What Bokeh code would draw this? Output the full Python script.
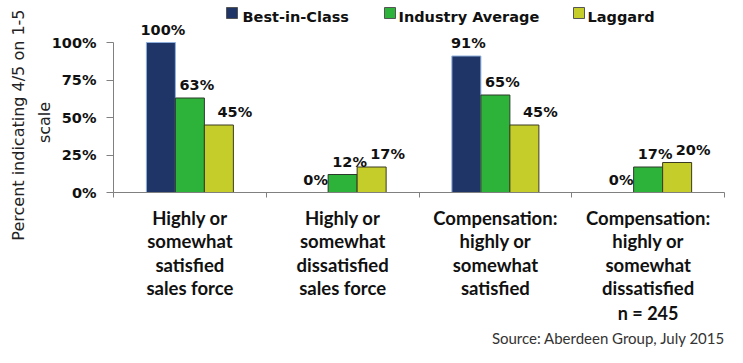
import math
from bokeh.plotting import figure
from bokeh.models import (Range1d, Label, LabelSet, ColumnDataSource, FixedTicker,
                          NumeralTickFormatter, BoxAnnotation, LinearAxis)
from bokeh.core.properties import value
from bokeh.embed import file_html
from bokeh.resources import INLINE

# ---- data ----
categories = [
    "Highly or\nsomewhat\nsatisfied\nsales force",
    "Highly or\nsomewhat\ndissatisfied\nsales force",
    "Compensation:\nhighly or\nsomewhat\nsatisfied",
    "Compensation:\nhighly or\nsomewhat\ndissatisfied",
]
series_names = ["Best-in-Class", "Industry Average", "Laggard"]
best_in_class = [100, 0, 91, 0]
industry_average = [63, 12, 65, 17]
laggard = [45, 17, 45, 20]
y_ticks = [0, 0.25, 0.5, 0.75, 1.0]
note_text = "n = 245"
source_text = "Source: Aberdeen Group, July 2015"
y_label_lines = ["Percent indicating  4/5 on 1-5", "scale"]

# ---- styles ----
fill_colors = ["#1F3567", "#2EB33A", "#C5CD2B"]
line_colors = ["#8FB0DC", "#2B3A2B", "#3A3A22"]
label_dx = [2, 7, 16]
axis_gray = "#808080"
num_font = "DejaVu Sans"
cat_font = "Lato"

W, H = 727, 347
# plot area in canvas pixels (from top-left)
FL, FR, FT, FB = 113, 724, 42, 192
XPU = (FR - FL) / 4.0      # px per category
YPU = (FB - FT) / 1.0      # px per unit (100%)
BW = 29 / XPU

p = figure(width=W, height=H,
           x_range=Range1d(-FL / XPU, 4 + (W - FR) / XPU),
           y_range=Range1d(-(H - FB) / YPU, 1 + FT / YPU),
           output_backend="svg", toolbar_location=None,
           x_axis_location=None, y_axis_location=None,
           min_border_left=0, min_border_right=0, min_border_top=0, min_border_bottom=0)
p.xgrid.visible = False
p.ygrid.visible = False
p.outline_line_color = None
p.background_fill_color = "white"
p.border_fill_color = "white"

all_series = [best_in_class, industry_average, laggard]
for i, (name, vals) in enumerate(zip(series_names, all_series)):
    xs = [g + 0.5 + (i - 1) * BW for g in range(len(categories))]
    tops = [v / 100 for v in vals]
    src = ColumnDataSource(dict(x=xs, top=tops, txt=[f"{v}%" for v in vals]))
    p.vbar(x="x", top="top", bottom=0, width=BW, source=src,
           fill_color=fill_colors[i], line_color=line_colors[i], line_width=1)
    ls = LabelSet(x="x", y="top", text="txt", source=src, x_offset=label_dx[i], y_offset=8,
                  text_align="center", text_baseline="alphabetic",
                  text_font=value(num_font), text_font_style="bold", text_font_size="14.5px",
                  text_color="#111111")
    p.add_layout(ls)

# axes (fixed inside the full-canvas frame)
yax = LinearAxis(fixed_location=0, bounds=(0, 1))
yax.ticker = FixedTicker(ticks=y_ticks)
yax.formatter = NumeralTickFormatter(format="0%")
yax.major_label_text_font = num_font
yax.major_label_text_font_style = "bold"
yax.major_label_text_font_size = "14.5px"
yax.major_label_text_color = "#111111"
yax.major_tick_out = 7
yax.major_tick_in = 0
yax.minor_tick_line_color = None
yax.major_label_standoff = 10
yax.axis_line_color = axis_gray
yax.major_tick_line_color = axis_gray
p.add_layout(yax, "left")

xax = LinearAxis(fixed_location=0, bounds=(0, 4))
xax.ticker = FixedTicker(ticks=list(range(len(categories) + 1)))
xax.major_label_overrides = {i: " " for i in range(len(categories) + 1)}
xax.major_tick_out = 5
xax.major_tick_in = 0
xax.minor_tick_line_color = None
xax.axis_line_color = axis_gray
xax.major_tick_line_color = axis_gray
p.add_layout(xax, "below")

# category labels (screen y measured from canvas bottom)
for g, cat in enumerate(categories):
    for k, line in enumerate(cat.split("\n")):
        p.add_layout(Label(x=g + 0.5, y=H - 217 - k * 23.6, x_units="data", y_units="screen",
                           text=line, text_align="center", text_baseline="alphabetic",
                           text_font=cat_font, text_font_style="bold", text_font_size="18.5px",
                           text_color="#111111"))

p.add_layout(Label(x=3.5, y=H - 312, x_units="data", y_units="screen", text=note_text,
                   text_align="center", text_baseline="alphabetic", text_font=cat_font,
                   text_font_style="bold", text_font_size="18px", text_color="#111111"))
p.add_layout(Label(x=W - 2, y=10, x_units="screen", y_units="screen", text=source_text,
                   text_align="right", text_baseline="alphabetic", text_font=cat_font,
                   text_font_size="15px", text_color="#333333"))

# y axis title (two lines, rotated)
for line, xx in zip(y_label_lines, [18, 44]):
    p.add_layout(Label(x=xx, y=H - 122, x_units="screen", y_units="screen", text=line,
                       angle=math.pi / 2, text_align="center", text_baseline="middle",
                       text_font=num_font, text_font_size="16px", text_color="#222222"))

# legend (manual)
sq_left = [226, 384, 573]
txt_left = [242, 398, 587]
for i, name in enumerate(series_names):
    p.add_layout(BoxAnnotation(left=sq_left[i], right=sq_left[i] + 11, bottom=H - 18, top=H - 7,
                               left_units="screen", right_units="screen",
                               bottom_units="screen", top_units="screen",
                               fill_color=fill_colors[i], fill_alpha=1.0,
                               line_color="#555555", line_alpha=1.0, line_width=1))
    p.add_layout(Label(x=txt_left[i], y=H - 16, x_units="screen", y_units="screen", text=name,
                       text_align="left", text_baseline="alphabetic", text_font=num_font,
                       text_font_style="bold", text_font_size="14.5px", text_color="#111111"))

open("out.html", "w").write(file_html(p, INLINE))
